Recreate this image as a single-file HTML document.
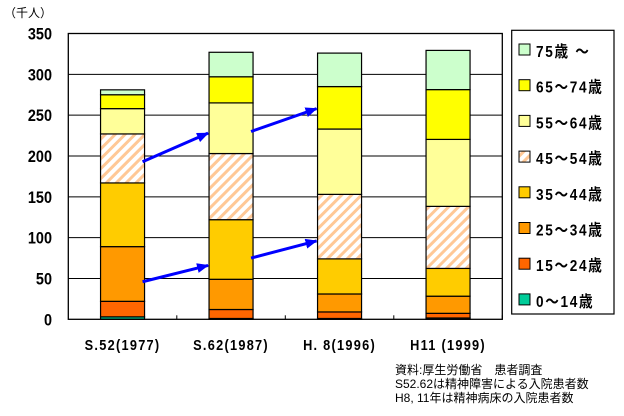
<!DOCTYPE html>
<html><head><meta charset="utf-8"><style>
body{margin:0;background:#fff;}
svg text{font-family:"Liberation Sans","Noto Sans CJK JP",sans-serif;}
.b{font-weight:bold;}
</style></head><body>
<svg width="624" height="411" viewBox="0 0 624 411" xmlns="http://www.w3.org/2000/svg">
<defs>
<pattern id="hatch" width="7" height="7" patternUnits="userSpaceOnUse" patternTransform="rotate(45)">
<rect width="7" height="7" fill="#fff"/><rect width="3" height="7" fill="#ffc896"/>
</pattern>
<marker id="ah" markerWidth="12" markerHeight="10" refX="11" refY="5" orient="auto" markerUnits="userSpaceOnUse"><path d="M0,0 L12,5 L0,10 z" fill="#0000ff"/></marker>
</defs>
<g id="g"></g>
</svg>
<script>
const categories=["S.52(1977)","S.62(1987)","H. 8(1996)","H11 (1999)"];
const seriesNames=["0～14歳","15～24歳","25～34歳","35～44歳","45～54歳","55～64歳","65～74歳","75歳 ～"];
const s0_14=[3,1,1,1.6];
const s15_24=[19,11,8,5.7];
const s25_34=[67,37,22,21];
const s35_44=[78,73,43,34];
const s45_54=[60,81,79,76];
const s55_64=[31,62,80,82];
const s65_74=[17,32,52,61];
const s75=[6,30,41,48];
const yTicks=[0,50,100,150,200,250,300,350];
// arrows: from category index, start value, end value (next category)
const arrowFrom=[0,0,1,1];
const arrowStart=[193,46,230,75];
const arrowEnd=[228,66,258,96];
const series=[s0_14,s15_24,s25_34,s35_44,s45_54,s55_64,s65_74,s75];
const fills=["#00cc99","#ff6600","#ff9900","#ffcc00","url(#hatch)","#ffff99","#ffff00","#ccffcc"];
const NS="http://www.w3.org/2000/svg";
const g=document.getElementById('g');
const L=68.3,R=502.3,T=33.5,B=319.3;
const y=v=>B-(v/350)*(B-T);
const bw=(R-L)/categories.length;
const xc=i=>L+bw*(i+0.5);
function mk(t,a,p){const e=document.createElementNS(NS,t);for(const k in a)e.setAttribute(k,a[k]);(p||g).appendChild(e);return e;}
yTicks.forEach(v=>{
 if(v>0&&v<350){const l=mk('line',{x1:L,x2:R,y1:y(v),y2:y(v),stroke:'#000','stroke-width':1});
 
 }
 const t=mk('text',{x:52,y:y(v)+6,'text-anchor':'end','font-size':17,class:'b',transform:'translate(52,0) scale(0.85,1) translate(-52,0)'});
 t.textContent=v;
 
 
});
categories.forEach((c,i)=>{
 const tk=mk('line',{x1:L+bw*(i+1),x2:L+bw*(i+1),y1:B-4,y2:B,stroke:'#000'});
 
 
 let acc=0;
 series.forEach((s,j)=>{
  const v=s[i];const y1=y(acc+v),y0=y(acc);acc+=v;
  const r=mk('rect',{x:xc(i)-22,y:y1,width:44,height:Math.max(0,y0-y1),fill:fills[j],stroke:'#000','stroke-width':1.2});
  
  
 });
 const t=mk('text',{x:xc(i),y:350,'text-anchor':'middle','font-size':15,class:'b','letter-spacing':'1.5',transform:`translate(${xc(i)},0) scale(0.85,1) translate(${-xc(i)},0)`});
 t.textContent=c;
 
 
});
const fr=mk('rect',{x:L,y:T,width:R-L,height:B-T,fill:'none',stroke:'#000','stroke-width':1.3});


arrowFrom.forEach((i,k)=>{
 const l=mk('line',{x1:xc(i)+20,y1:y(arrowStart[k]),x2:xc(i+1)-23,y2:y(arrowEnd[k]),stroke:'#0000ff','stroke-width':3,'marker-end':'url(#ah)'});
 
 
});
const u=mk('text',{x:4,y:17,'font-size':12});
u.textContent='（千人）';


const lb=mk('rect',{x:511.7,y:30.3,width:102.3,height:283.7,fill:'#fff',stroke:'#000','stroke-width':1.2});


for(let k=7;k>=0;k--){
 const yy=50+(7-k)*35.7;
 const sw=mk('rect',{x:519,y:yy-6,width:11,height:11,fill:fills[k],stroke:'#000'});
 
 
 const t=mk('text',{x:536,y:yy+7,'font-size':16,class:'b','letter-spacing':'2',transform:'translate(536,0) scale(0.85,1) translate(-536,0)'});
 t.textContent=seriesNames[k];
 
 
}
["資料:厚生労働省　患者調査","S52.62は精神障害による入院患者数","H8, 11年は精神病床の入院患者数"].forEach((s,i)=>{
 const t=mk('text',{x:395,y:374+i*14,'font-size':12});
 t.textContent=s;
 
 
});
</script>
</body></html>
